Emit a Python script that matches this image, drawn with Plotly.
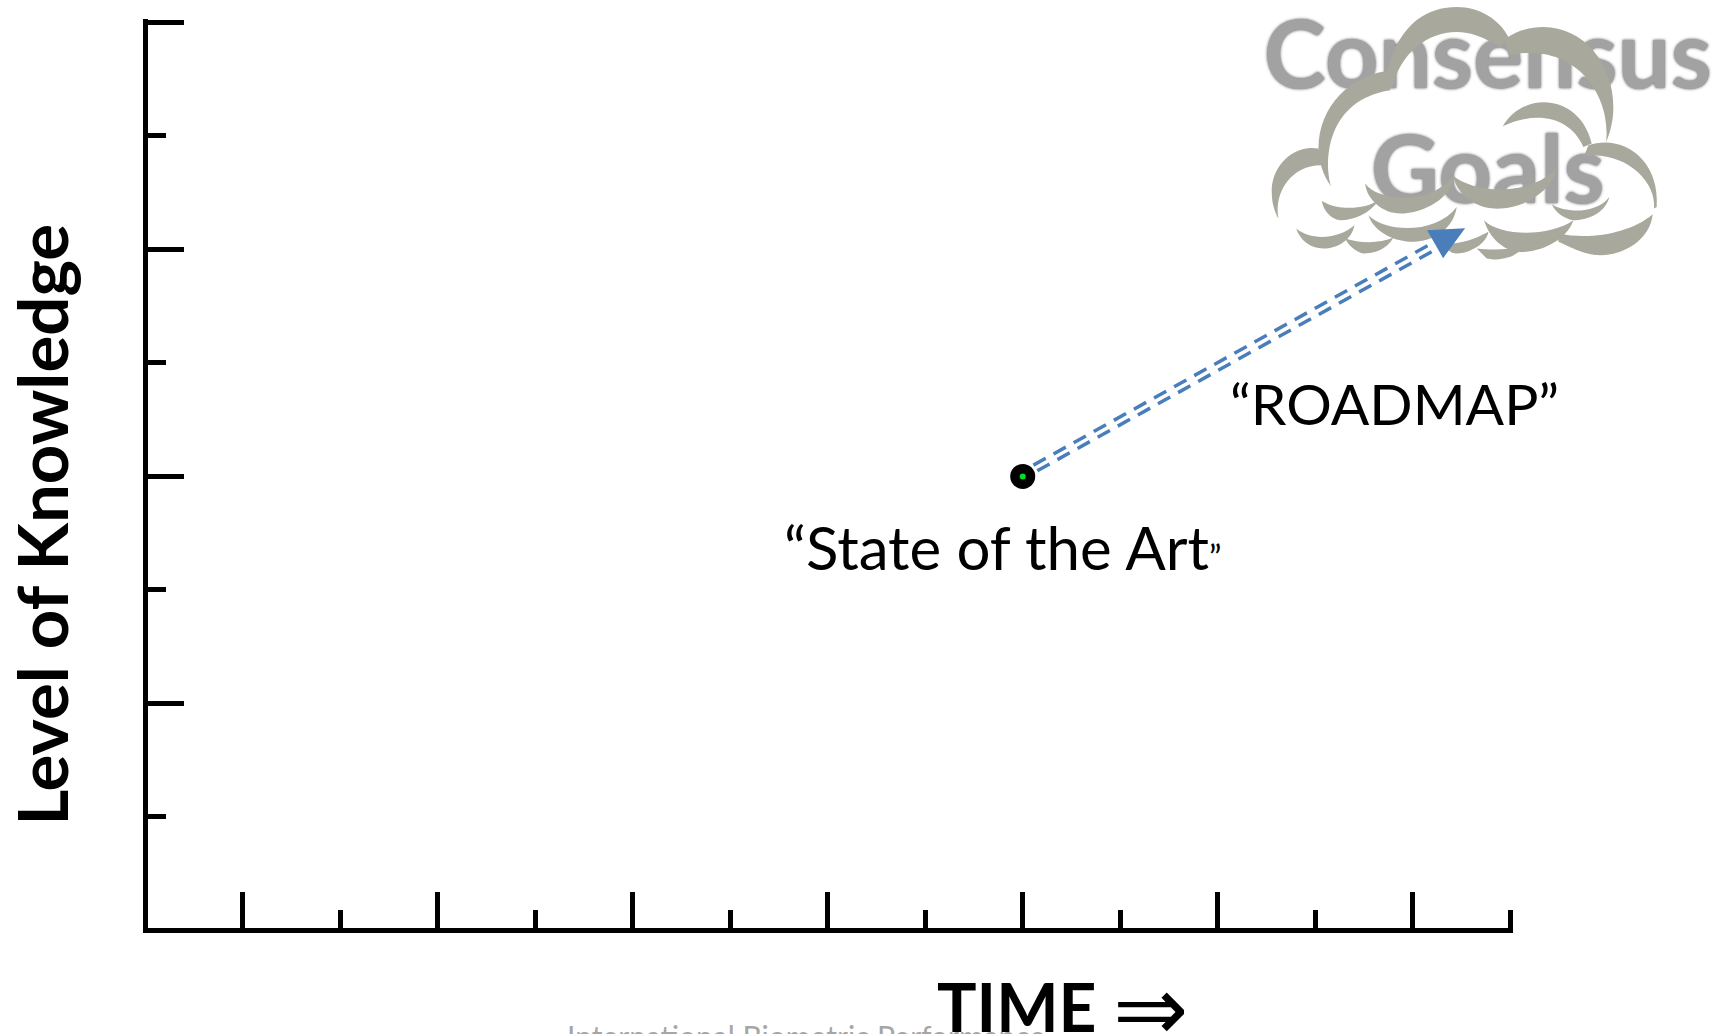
import plotly.graph_objects as go

x_major = [1, 3, 5, 7, 9, 11, 13]
x_minor = [2, 4, 6, 8, 10, 12, 14]
y_major = [2, 4, 6, 8]
y_minor = [1, 3, 5, 7]

state_x = [9]
state_y = [4]

road_top_x = [9.11, 13.21]
road_top_y = [4.10, 6.06]
road_bot_x = [9.15, 13.28]
road_bot_y = [4.05, 6.02]

goal_labels = ["Consensus", "Goals"]
goal_x = [13.77, 13.77]
goal_y = [7.63, 6.62]

BLUE = "#4a7ebb"
CLOUD = "#a8a89c"

# pixels per data unit, with data 0,0 on the centre of the axis lines
X0, Y0, XS, YS = 145, 931, 97.5, 113.625
LINE = 5
X_TOP, Y_TOP = 14.03, 8.03  # a hair past the last tick or plotly drops it

PLOT_L = X0 + LINE / 2
PLOT_R = X0 + XS * X_TOP
PLOT_B = Y0 - LINE / 2
PLOT_T = Y0 - YS * Y_TOP


def px(x):
    return (x - PLOT_L) / (PLOT_R - PLOT_L)


def py(y):
    return (PLOT_B - y) / (PLOT_B - PLOT_T)


# cloud outline was traced on the 3x crop, so it is written in crop coordinates
cloud_parts = [
    "M 470,215 C 510,60 600,20 680,20 C 750,20 810,60 835,110 L 810,140 C 760,110 720,95 680,95 C 590,95 510,160 485,265 Z",
    "M 825,115 C 860,90 900,80 940,80 C 1060,80 1150,190 1150,320 C 1150,360 1140,400 1128,425 C 1145,290 1040,120 835,165 Z",
    "M 490,210 C 360,220 265,320 265,445 C 265,480 280,530 303,558 C 280,480 290,300 480,270 Z",
    "M 265,445 C 190,430 120,500 125,580 C 125,610 135,640 145,655 C 130,570 190,490 280,495 Z",
    "M 818,378 C 880,270 1050,280 1085,430 L 1060,440 C 1020,350 920,330 818,378 Z",
    "M 1075,435 C 1180,400 1290,480 1280,620 L 1272,625 C 1280,540 1180,450 1062,468 Z",
    "M 405,550 C 440,600 590,620 668,530 C 670,590 580,640 510,640 C 460,640 410,600 405,550 Z",
    "M 668,525 C 730,580 900,590 978,505 C 970,570 880,630 790,625 C 730,620 680,580 668,525 Z",
    "M 275,602 C 320,630 400,630 445,600 C 420,640 370,660 330,660 C 300,655 280,630 275,602 Z",
    "M 965,612 C 1010,640 1100,640 1138,590 C 1125,640 1070,660 1030,660 C 1000,655 975,635 965,612 Z",
    "M 415,645 C 470,700 620,700 680,620 C 670,680 620,725 540,725 C 480,720 430,690 415,645 Z",
    "M 198,685 C 240,720 320,720 373,675 C 365,720 320,745 280,745 C 240,745 210,720 198,685 Z",
    "M 345,715 C 390,730 450,730 490,712 C 470,750 430,760 400,760 C 375,755 355,735 345,715 Z",
    "M 762,660 C 810,710 960,710 1030,660 C 1010,720 930,760 860,755 C 810,745 775,705 762,660 Z",
    "M 985,700 C 1080,720 1200,700 1268,642 C 1260,720 1180,765 1110,765 C 1060,765 1010,735 985,725 Z",
    "M 740,745 C 780,750 830,750 880,740 C 860,770 820,778 790,778 L 770,775 Z",
    "M 640,730 C 680,735 730,720 775,695 C 770,730 720,760 680,760 C 660,760 650,745 640,730 Z",
]


def crop_path(path):
    out = []
    for tok in path.split():
        if "," in tok:
            cx, cy = tok.split(",")
            out.append(f"{px(1230 + float(cx) / 3):.5f},{py(float(cy) / 3):.5f}")
        else:
            out.append(tok)
    return " ".join(out)


fig = go.Figure()

fig.add_trace(go.Scatter(
    x=goal_x, y=goal_y, text=goal_labels, mode="text", cliponaxis=False,
    textposition="middle center",
    textfont=dict(family="Lato", size=94, color="#a2a2a2", weight="bold",
                  shadow="0px 0px 3px #555555"),
))

for xs, ys in [(road_top_x, road_top_y), (road_bot_x, road_bot_y)]:
    fig.add_trace(go.Scatter(
        x=xs, y=ys, mode="lines",
        line=dict(color=BLUE, width=3.5, dash="14px,9px"),
    ))

fig.add_trace(go.Scatter(
    x=state_x, y=state_y, mode="markers",
    marker=dict(color="black", size=25, line=dict(width=0)),
))
fig.add_trace(go.Scatter(
    x=state_x, y=state_y, mode="markers",
    marker=dict(color="#00e020", size=6, line=dict(width=0)),
))

for part in cloud_parts:
    fig.add_shape(type="path", path=crop_path(part), fillcolor=CLOUD,
                  line=dict(width=0), layer="above", xref="paper", yref="paper")

# arrow head sits over the cloud
head = f"M {px(1427)},{py(230)} L {px(1465)},{py(228)} L {px(1443)},{py(258)} Z"
fig.add_shape(type="path", path=head, fillcolor=BLUE, line=dict(width=0),
              layer="above", xref="paper", yref="paper")

labels = [
    ("“ROADMAP”", 1394, 403, 57, "black", "normal", 0, "Lato"),
    ("“State of the Art<span style=\"font-size:34px\">”</span>", 1002, 547, 60, "black", "normal", 0, "Lato"),
    ("International Biometric Performance", 806, 1037, 30, "#a6a6a6", "normal", 0, "Lato"),
    ("TIME", 1017, 1007, 66, "black", "bold", 0, "Lato"),
    ("⇒", 1150, 1009, 90, "black", "normal", 0, "DejaVu Sans"),
    ("Level of Knowledge", 41, 525, 69, "black", "bold", -90, "Lato"),
]
for text, lx, ly, size, color, weight, angle, family in labels:
    fig.add_annotation(
        x=px(lx), y=py(ly), xref="paper", yref="paper", text=text, showarrow=False,
        textangle=angle, xanchor="center", yanchor="middle",
        font=dict(family=family, size=size, color=color, weight=weight),
    )

fig.update_xaxes(
    range=[LINE / 2 / XS, X_TOP], showgrid=False, zeroline=False, showticklabels=False,
    showline=True, linecolor="black", linewidth=LINE,
    ticks="inside", tickmode="array", tickvals=x_major, ticklen=36,
    tickwidth=4.5, tickcolor="black",
    minor=dict(ticks="inside", tickmode="array", tickvals=x_minor, ticklen=18,
               tickwidth=4.5, tickcolor="black", showgrid=False),
)
fig.update_yaxes(
    range=[LINE / 2 / YS, Y_TOP], showgrid=False, zeroline=False, showticklabels=False,
    showline=True, linecolor="black", linewidth=LINE,
    ticks="inside", tickmode="array", tickvals=y_major, ticklen=36,
    tickwidth=4.5, tickcolor="black",
    minor=dict(ticks="inside", tickmode="array", tickvals=y_minor, ticklen=18,
               tickwidth=4.5, tickcolor="black", showgrid=False),
)
fig.update_layout(
    width=1729, height=1034, showlegend=False,
    margin=dict(l=PLOT_L, r=1729 - PLOT_R, t=PLOT_T, b=1034 - PLOT_B),
    paper_bgcolor="white", plot_bgcolor="white",
)

fig.write_html("out.html", config=dict(displayModeBar=False),
               post_script="document.body.style.margin='0';document.body.style.overflow='hidden';")
